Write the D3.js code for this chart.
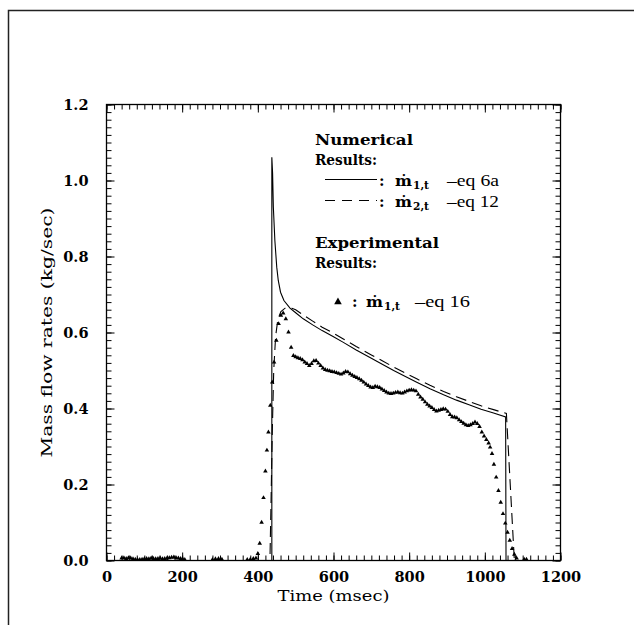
<!DOCTYPE html>
<html>
<head>
<meta charset="utf-8">
<script src="https://cdn.jsdelivr.net/npm/d3@7"></script>
<style>
  html, body { margin: 0; padding: 0; background: #fff; }
  svg { display: block; }
</style>
</head>
<body>
<div id="chart"></div>
<script>
// tick labels
const xTicks = [0, 200, 400, 600, 800, 1000, 1200];
const yTicks = [0, 0.2, 0.4, 0.6, 0.8, 1.0, 1.2];

// numerical result, eq 6a (time msec, kg/sec)
const eq6a = [
  [0, 0], [437, 0], [437, 1.061], [439, 1.02], [441, 0.93], [445, 0.842], [450, 0.772],
  [454, 0.737], [460, 0.706], [469, 0.684], [485, 0.664], [500, 0.652], [520, 0.636],
  [545, 0.620], [570, 0.605], [600, 0.589], [626, 0.574], [660, 0.554], [700, 0.532],
  [730, 0.516], [759, 0.500], [790, 0.484], [820, 0.469], [855, 0.452], [891, 0.436],
  [925, 0.422], [960, 0.409], [990, 0.398], [1023, 0.388], [1055, 0.378], [1056, 0], [1200, 0]
];

// numerical result, eq 12
const eq12 = [
  [0, 0], [432, 0], [435, 0.16], [438, 0.33], [442, 0.50], [447, 0.59], [453, 0.635],
  [461, 0.655], [472, 0.664], [490, 0.664], [500, 0.660], [520, 0.646], [545, 0.630],
  [570, 0.614], [600, 0.598], [626, 0.583], [660, 0.563], [700, 0.541], [730, 0.525],
  [759, 0.509], [790, 0.493], [820, 0.478], [855, 0.461], [891, 0.445], [925, 0.431],
  [960, 0.418], [990, 0.407], [1023, 0.397], [1057, 0.387], [1078, 0], [1200, 0]
];

// experimental result, eq 16
const eq16 = [
  [40, 0.006], [46, 0.007], [52, 0.005], [58, 0.007], [64, 0.006], [70, 0.004], [76, 0.003],
  [82, 0.002], [88, 0.002], [94, 0.003], [100, 0.004], [106, 0.005], [112, 0.004], [118, 0.006],
  [124, 0.005], [130, 0.004], [136, 0.005], [142, 0.006], [148, 0.004], [154, 0.005], [160, 0.006],
  [166, 0.007], [172, 0.008], [178, 0.009], [184, 0.007], [190, 0.006], [196, 0.005], [202, 0.003],
  [207, 0.002], [280, 0.002], [288, 0.004], [296, 0.005], [305, 0.003], [372, 0.002], [380, 0.003],
  [388, 0.005], [395, 0.006], [400, 0.018], [405, 0.045], [410, 0.10], [415, 0.165], [420, 0.235],
  [424, 0.29], [428, 0.338], [433, 0.408], [438, 0.469], [443, 0.522], [449, 0.579], [455, 0.623],
  [461, 0.645], [467, 0.651], [474, 0.636], [481, 0.601], [488, 0.561], [494, 0.539], [500, 0.536],
  [506, 0.533], [512, 0.531], [518, 0.528], [524, 0.522], [530, 0.518], [536, 0.513], [542, 0.518],
  [548, 0.525], [554, 0.526], [560, 0.519], [566, 0.513], [572, 0.506], [578, 0.502], [584, 0.500],
  [590, 0.499], [596, 0.497], [602, 0.496], [608, 0.494], [614, 0.492], [620, 0.490], [626, 0.493],
  [632, 0.497], [638, 0.496], [644, 0.491], [650, 0.487], [656, 0.484], [662, 0.481], [668, 0.478],
  [674, 0.474], [680, 0.469], [686, 0.464], [692, 0.460], [698, 0.456], [704, 0.455], [710, 0.458],
  [716, 0.457], [722, 0.455], [728, 0.451], [734, 0.447], [740, 0.443], [746, 0.440], [752, 0.439],
  [758, 0.440], [764, 0.442], [770, 0.443], [776, 0.441], [782, 0.440], [788, 0.443], [794, 0.446],
  [800, 0.448], [806, 0.449], [812, 0.448], [818, 0.446], [824, 0.437], [830, 0.430], [836, 0.424],
  [842, 0.417], [848, 0.411], [854, 0.406], [860, 0.402], [866, 0.397], [872, 0.393], [878, 0.395],
  [884, 0.397], [890, 0.399], [896, 0.398], [902, 0.392], [908, 0.384], [914, 0.378], [920, 0.377],
  [926, 0.375], [932, 0.370], [938, 0.365], [944, 0.361], [950, 0.357], [956, 0.355], [962, 0.357],
  [968, 0.360], [974, 0.364], [980, 0.360], [986, 0.352], [992, 0.338], [998, 0.327], [1004, 0.318],
  [1010, 0.309], [1014, 0.298], [1019, 0.281], [1024, 0.253], [1030, 0.219], [1036, 0.184],
  [1042, 0.153], [1048, 0.123], [1054, 0.098], [1060, 0.074], [1066, 0.053], [1072, 0.031],
  [1078, 0.016], [1084, 0.006], [1104, 0.003], [1110, 0.003]
];

const width = 634, height = 625;
const margin = { top: 104.5, right: 73.5, bottom: 64.5, left: 106.5 };
const serif = '"DejaVu Serif", serif';
const times = '"Liberation Serif", "Times New Roman", serif';

const svg = d3.select('#chart')
  .append('svg')
  .attr('width', width)
  .attr('height', height);

// page frame (top and left edges only)
svg.append('path')
  .attr('d', `M8.5,${height} V10.5 H${width}`)
  .attr('fill', 'none')
  .attr('stroke', '#222')
  .attr('stroke-width', 1.5);

const x = d3.scaleLinear().domain([0, 1200]).range([margin.left, width - margin.right]);
const y = d3.scaleLinear().domain([0, 1.2]).range([height - margin.bottom, margin.top]);

const minorX = d3.range(0, 1201, 20);
const minorY = d3.range(0, 61).map(i => i * 0.02);

// data
const line = d3.line().x(d => x(d[0])).y(d => y(d[1]));

svg.append('path').datum(eq6a)
  .attr('fill', 'none').attr('stroke', '#000').attr('stroke-width', 1.1)
  .attr('d', line);

svg.append('path').datum(eq12)
  .attr('fill', 'none').attr('stroke', '#000').attr('stroke-width', 1.1)
  .attr('stroke-dasharray', '11,6')
  .attr('d', line);

const tri = d3.symbol().type(d3.symbolTriangle).size(9);
svg.selectAll('.exp').data(eq16).enter().append('path')
  .attr('class', 'exp')
  .attr('transform', d => `translate(${x(d[0])},${y(d[1])})`)
  .attr('d', tri)
  .attr('fill', '#000');

// axes: inward ticks on all four sides
function styleAxis(g) {
  g.select('.domain').remove();
  g.selectAll('.tick line').attr('stroke', '#000').attr('stroke-width', 1);
  g.selectAll('.tick text')
    .attr('fill', '#000')
    .style('font-family', serif)
    .style('font-weight', 'bold')
    .style('font-size', '14.5px');
}

svg.append('g').attr('transform', `translate(0,${y(0)})`)
  .call(d3.axisBottom(x).tickValues(minorX).tickSize(-5).tickFormat(''))
  .call(styleAxis);
svg.append('g').attr('transform', `translate(0,${y(0)})`)
  .call(d3.axisBottom(x).tickValues(xTicks).tickSize(-8).tickPadding(11).tickFormat(d3.format('d')))
  .call(styleAxis);

svg.append('g').attr('transform', `translate(0,${y(1.2)})`)
  .call(d3.axisTop(x).tickValues(minorX).tickSize(-5).tickFormat(''))
  .call(styleAxis);
svg.append('g').attr('transform', `translate(0,${y(1.2)})`)
  .call(d3.axisTop(x).tickValues(xTicks).tickSize(-8).tickFormat(''))
  .call(styleAxis);

svg.append('g').attr('transform', `translate(${x(0)},0)`)
  .call(d3.axisLeft(y).tickValues(minorY).tickSize(-5).tickFormat(''))
  .call(styleAxis);
svg.append('g').attr('transform', `translate(${x(0)},0)`)
  .call(d3.axisLeft(y).tickValues(yTicks).tickSize(-8).tickPadding(18).tickFormat(d3.format('.1f')))
  .call(styleAxis);

svg.append('g').attr('transform', `translate(${x(1200)},0)`)
  .call(d3.axisRight(y).tickValues(minorY).tickSize(-5).tickFormat(''))
  .call(styleAxis);
svg.append('g').attr('transform', `translate(${x(1200)},0)`)
  .call(d3.axisRight(y).tickValues(yTicks).tickSize(-8).tickFormat(''))
  .call(styleAxis);

svg.append('rect')
  .attr('x', x(0)).attr('y', y(1.2))
  .attr('width', x(1200) - x(0)).attr('height', y(0) - y(1.2))
  .attr('fill', 'none').attr('stroke', '#000').attr('stroke-width', 1.3);

// axis titles
svg.append('text')
  .attr('x', x(600)).attr('y', 601)
  .attr('text-anchor', 'middle')
  .attr('textLength', 112).attr('lengthAdjust', 'spacingAndGlyphs')
  .style('font-family', serif).style('font-size', '15px')
  .text('Time  (msec)');

svg.append('text')
  .attr('transform', 'rotate(-90)')
  .attr('x', -y(0.6)).attr('y', 52)
  .attr('text-anchor', 'middle')
  .attr('textLength', 250).attr('lengthAdjust', 'spacingAndGlyphs')
  .style('font-family', serif).style('font-size', '15px')
  .text('Mass  flow  rates  (kg/sec)');

// legend
const legend = svg.append('g');

function label(tx, ty, str, len, opts = {}) {
  const t = legend.append('text')
    .attr('x', tx).attr('y', ty)
    .style('font-family', opts.family || serif)
    .style('font-weight', opts.weight || 'bold')
    .style('font-size', (opts.size || 15) + 'px')
    .text(str);
  if (len) t.attr('textLength', len).attr('lengthAdjust', 'spacingAndGlyphs');
  return t;
}

function mdot(tx, ty, sub) {
  label(tx, ty, 'ṁ', 17);
  label(tx + 18, ty + 3, sub, 16, { size: 10.5 });
}

label(315, 145, 'Numerical', 98);
label(315, 165, 'Results:', 62);

legend.append('line')
  .attr('x1', 325).attr('x2', 377).attr('y1', 179.5).attr('y2', 179.5)
  .attr('stroke', '#000').attr('stroke-width', 1.1);
label(379, 186, ':');
mdot(395, 186, '1,t');
label(447, 186, '–eq 6a', 52, { family: times, weight: 'normal', size: 17 });

legend.append('line')
  .attr('x1', 325).attr('x2', 377).attr('y1', 200.5).attr('y2', 200.5)
  .attr('stroke', '#000').attr('stroke-width', 1.1)
  .attr('stroke-dasharray', '10,7');
label(379, 207, ':');
mdot(395, 207, '2,t');
label(447, 207, '–eq 12', 52, { family: times, weight: 'normal', size: 17 });

label(315, 248, 'Experimental', 124);
label(315, 268, 'Results:', 62);

legend.append('path')
  .attr('transform', 'translate(338,302)')
  .attr('d', d3.symbol().type(d3.symbolTriangle).size(25))
  .attr('fill', '#000');
label(352, 307, ':');
mdot(366, 307, '1,t');
label(415, 307, '–eq 16', 55, { family: times, weight: 'normal', size: 17 });
</script>
</body>
</html>
